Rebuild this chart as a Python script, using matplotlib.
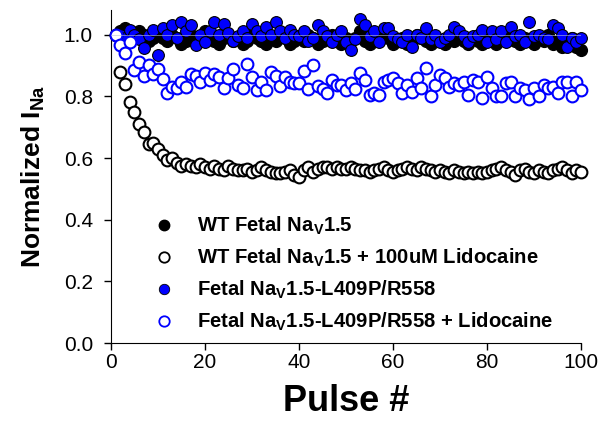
import numpy as np
import matplotlib
matplotlib.use("Agg")
import matplotlib.pyplot as plt
from matplotlib.lines import Line2D

plt.rcParams["font.family"] = ["Liberation Sans", "DejaVu Sans"]
plt.rcParams["mathtext.fontset"] = "custom"
plt.rcParams["mathtext.rm"] = "Liberation Sans"
plt.rcParams["mathtext.bf"] = "Liberation Sans:bold"

# ---------------------------------------------------------------------------
# Data
# ---------------------------------------------------------------------------
pulses = np.arange(1, 101)

wt = [1.00, 1.01, 1.02, 1.00, 0.99, 1.01, 1.00, 0.98, 0.99, 1.00,
      0.99, 0.98, 1.00, 0.99, 0.97, 0.98, 1.00, 0.99, 0.98, 1.01,
      0.99, 0.98, 0.97, 0.99, 1.00, 0.98, 0.99, 0.97, 0.98, 1.00,
      0.99, 0.98, 0.97, 0.99, 0.98, 1.00, 0.99, 0.97, 0.98, 0.99,
      0.98, 1.00, 0.99, 0.97, 0.98, 0.99, 1.00, 0.98, 0.97, 0.99,
      0.98, 0.99, 1.01, 0.98, 0.97, 0.99, 0.98, 1.00, 0.99, 0.97,
      0.98, 0.99, 0.97, 0.98, 1.00, 0.99, 0.98, 0.97, 0.99, 0.98,
      0.97, 0.99, 0.98, 1.00, 0.98, 0.97, 0.99, 0.98, 0.97, 0.99,
      0.98, 0.97, 0.99, 0.98, 1.00, 0.98, 0.97, 0.99, 0.98, 0.97,
      0.99, 0.98, 1.00, 0.97, 0.98, 0.96, 0.97, 0.99, 0.96, 0.95]

wt_lido = [1.00, 0.88, 0.84, 0.78, 0.75, 0.71, 0.685, 0.645, 0.65, 0.63,
           0.61, 0.595, 0.60, 0.585, 0.575, 0.58, 0.575, 0.57, 0.58, 0.57,
           0.565, 0.575, 0.565, 0.56, 0.575, 0.565, 0.56, 0.56, 0.565, 0.555,
           0.56, 0.57, 0.56, 0.555, 0.55, 0.55, 0.555, 0.56, 0.545, 0.54,
           0.56, 0.57, 0.555, 0.565, 0.57, 0.57, 0.565, 0.57, 0.565, 0.565,
           0.57, 0.565, 0.56, 0.56, 0.555, 0.56, 0.565, 0.57, 0.56, 0.555,
           0.56, 0.565, 0.57, 0.565, 0.56, 0.57, 0.565, 0.56, 0.555, 0.56,
           0.555, 0.55, 0.56, 0.555, 0.55, 0.555, 0.55, 0.555, 0.55, 0.555,
           0.56, 0.565, 0.57, 0.56, 0.555, 0.545, 0.56, 0.565, 0.555, 0.55,
           0.56, 0.555, 0.55, 0.56, 0.565, 0.57, 0.56, 0.55, 0.56, 0.555]

mut = [1.00, 1.00, 0.99, 1.015, 1.00, 0.985, 0.955, 1.00, 1.015, 0.935,
       1.02, 1.00, 1.03, 0.99, 1.04, 1.01, 1.03, 0.965, 1.00, 0.975,
       1.01, 1.04, 1.00, 1.035, 1.005, 0.98, 0.995, 1.01, 0.99, 1.035,
       1.01, 0.995, 1.025, 1.00, 1.04, 1.01, 0.99, 1.015, 1.00, 0.995,
       1.01, 0.98, 0.99, 1.03, 1.01, 0.995, 0.975, 1.00, 1.01, 0.975,
       0.95, 0.985, 1.05, 1.03, 0.995, 1.01, 0.975, 1.02, 1.02, 0.995,
       0.985, 0.975, 1.00, 0.96, 1.00, 0.99, 1.02, 0.985, 1.00, 0.975,
       0.99, 1.00, 1.025, 1.01, 0.995, 0.975, 0.995, 1.00, 1.015, 0.975,
       1.01, 0.985, 1.01, 0.975, 1.025, 0.995, 1.00, 0.975, 1.04, 0.995,
       1.00, 0.99, 0.985, 1.03, 1.02, 1.00, 0.96, 0.99, 0.975, 0.99]

mut_lido = [1.00, 0.967, 0.94, 0.975, 0.886, 0.91, 0.865, 0.90, 0.873, 0.89,
            0.857, 0.81, 0.83, 0.828, 0.847, 0.83, 0.873, 0.867, 0.847, 0.877,
            0.854, 0.873, 0.864, 0.828, 0.86, 0.89, 0.837, 0.828, 0.906, 0.864,
            0.82, 0.847, 0.82, 0.88, 0.867, 0.834, 0.864, 0.847, 0.844, 0.844,
            0.883, 0.824, 0.90, 0.834, 0.824, 0.81, 0.854, 0.837, 0.837, 0.82,
            0.844, 0.824, 0.877, 0.854, 0.805, 0.81, 0.805, 0.847, 0.854, 0.86,
            0.844, 0.81, 0.837, 0.815, 0.86, 0.828, 0.893, 0.80, 0.837, 0.87,
            0.86, 0.83, 0.844, 0.837, 0.847, 0.805, 0.854, 0.847, 0.795, 0.864,
            0.828, 0.80, 0.80, 0.844, 0.847, 0.80, 0.828, 0.82, 0.79, 0.828,
            0.80, 0.837, 0.828, 0.83, 0.81, 0.847, 0.847, 0.80, 0.847, 0.82]

labels = [
    r"WT Fetal Na$_{\mathbf{V}}$1.5",
    r"WT Fetal Na$_{\mathbf{V}}$1.5 + 100uM Lidocaine",
    r"Fetal Na$_{\mathbf{V}}$1.5-L409P/R558",
    r"Fetal Na$_{\mathbf{V}}$1.5-L409P/R558 + Lidocaine",
]

BLUE = "#0000ff"

# ---------------------------------------------------------------------------
# Plot
# ---------------------------------------------------------------------------
fig = plt.figure(figsize=(6.13, 4.30), dpi=100)
ax = fig.add_axes([0.181, 0.202, 0.767, 0.775])

ms = 72
ax.scatter(pulses, wt, s=ms, facecolor="black", edgecolor="black", lw=1.0,
           zorder=3, clip_on=False)
ax.scatter(pulses, mut, s=ms, facecolor=BLUE, edgecolor="black", lw=0.8,
           zorder=4, clip_on=False)
ax.scatter(pulses, wt_lido, s=ms, facecolor="white", edgecolor="black", lw=1.5,
           zorder=5, clip_on=False)
ax.scatter(pulses, mut_lido, s=ms, facecolor="white", edgecolor=BLUE, lw=1.5,
           zorder=5, clip_on=False)

ax.axhline(1.0, color="#b8c0d8", lw=0.6, alpha=0.7, zorder=6)

ax.set_xlim(0, 100)
ax.set_ylim(0, 1.08)
ax.set_xticks(np.arange(0, 101, 20))
ax.set_yticks(np.arange(0, 1.01, 0.2))
ax.set_yticklabels([f"{v:.1f}" for v in np.arange(0, 1.01, 0.2)])
ax.tick_params(direction="out", length=5, width=1, labelsize=15)
ax.tick_params(axis="y", pad=8)
ax.tick_params(axis="x", pad=2)
for s in ("top", "right"):
    ax.spines[s].set_visible(False)

ax.set_xlabel("Pulse #", fontsize=26, fontweight="bold", labelpad=9)
ax.set_ylabel(r"Normalized I$_{\mathbf{Na}}$", fontsize=19, fontweight="bold",
              labelpad=12)

handles = [
    Line2D([], [], ls="", marker="o", ms=7.5, mfc="black", mec="black"),
    Line2D([], [], ls="", marker="o", ms=7.5, mfc="white", mec="black", mew=1.3),
    Line2D([], [], ls="", marker="o", ms=7.5, mfc=BLUE, mec="black", mew=0.6),
    Line2D([], [], ls="", marker="o", ms=7.5, mfc="white", mec=BLUE, mew=1.3),
]
leg = ax.legend(handles, labels, loc="lower left", bbox_to_anchor=(0.052, -0.025),
                frameon=False, handlelength=1.0, handletextpad=1.15,
                labelspacing=0.48, prop={"size": 14.6, "weight": "bold"})

plt.savefig("out.png", dpi=100)
